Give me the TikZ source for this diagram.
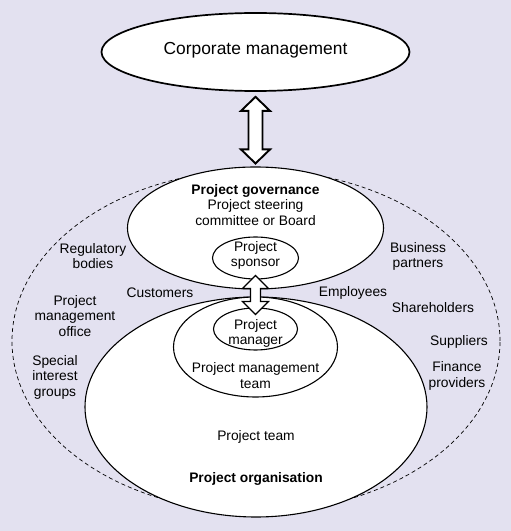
\documentclass[tikz,border=0pt]{standalone}
\usepackage{fontspec}
\setmainfont{Liberation Sans}
\usetikzlibrary{shapes.geometric,calc}
\definecolor{bgcol}{RGB}{227,225,240}
\tikzset{
  ell/.style={ellipse, draw=black, fill=white, inner sep=0pt, line width=1.1pt},
  txt/.style={align=center, inner sep=0pt, font=\fontsize{13.8}{15.5}\selectfont},
  arr/.style={draw=black, fill=white, line join=miter},
}
\begin{document}
\begin{tikzpicture}[x=1pt,y=1pt]
\fill[bgcol] (0,0) rectangle (511,531);
\useasboundingbox (0,0) rectangle (511,531);
% outer dashed stakeholder boundary
\node[ellipse, draw=black, dash pattern=on 4pt off 3pt, line width=0.7pt, inner sep=0pt,
      minimum width=488pt, minimum height=342pt] (env) at (256,190) {};
% ellipses
\node[ell, minimum width=308pt, minimum height=78pt, line width=1.7pt] (corp) at (255.5,479) {};
\node[ell, minimum width=342pt, minimum height=220pt] (org) at (256,124) {};
\node[ell, minimum width=164pt, minimum height=100pt] (pmt) at (255.5,184) {};
\node[ell, minimum width=256pt, minimum height=122pt] (gov) at (255.5,303) {};
\node[ell, minimum width=86pt, minimum height=42pt] (sponsor) at (255.5,273) {};
\node[ell, minimum width=84pt, minimum height=42pt] (manager) at (255.5,202) {};
% big double arrow
\coordinate (t1) at ($(corp.south)+(0,-5)$);
\coordinate (t2) at ($(gov.north)+(0,3)$);
\draw[arr, line width=1.9pt] (t1) -- ++(14.5,-14) -- ++(-7.5,0) -- ($(t2)+(7,14)$) -- ++(7.5,0)
  -- (t2) -- ++(-14.5,14) -- ++(7.5,0) -- ($(t1)+(-7,-14)$) -- ++(-7.5,0) -- cycle;
% small double arrow
\coordinate (s1) at ($(sponsor.south)+(0,4)$);
\coordinate (s2) at ($(manager.north)+(0,-7)$);
\draw[arr, line width=1.2pt] (s1) -- ++(13,-13) -- ++(-8,0) -- ($(s2)+(5,13)$) -- ++(8,0)
  -- (s2) -- ++(-13,13) -- ++(8,0) -- ($(s1)+(-5,-13)$) -- ++(-8,0) -- cycle;
% texts
\node[txt, font=\fontsize{17.4}{19}\selectfont] (tcorp) at (255.5,481) {Corporate management};
\node[txt] (tgov) at (255.5,326) {\textbf{Project governance}\\Project steering\\committee or Board};
\node[txt] (tspon) at (255.5,275.5) {Project\\sponsor};
\node[txt] (tman) at (255.5,197.5) {Project\\manager};
\node[txt] (tpmt) at (255.5,155.5) {Project management\\team};
\node[txt] (tteam) at (256,94) {Project team};
\node[txt] (torg) at (256,52) {\textbf{Project organisation}};
\node[txt] (tcust) at (160,238) {Customers};
\node[txt] (temp) at (353,238) {Employees};
\node[txt] (treg) at (93,275) {Regulatory\\bodies};
\node[txt] (tpmo) at (75,215) {Project\\management\\office};
\node[txt] (tsig) at (55,154) {Special\\interest\\groups};
\node[txt] (tbus) at (418,274.5) {Business\\partners};
\node[txt] (tsha) at (433,223) {Shareholders};
\node[txt] (tsup) at (459,189) {Suppliers};
\node[txt] (tfin) at (457,155) {Finance\\providers};
\end{tikzpicture}
\end{document}
